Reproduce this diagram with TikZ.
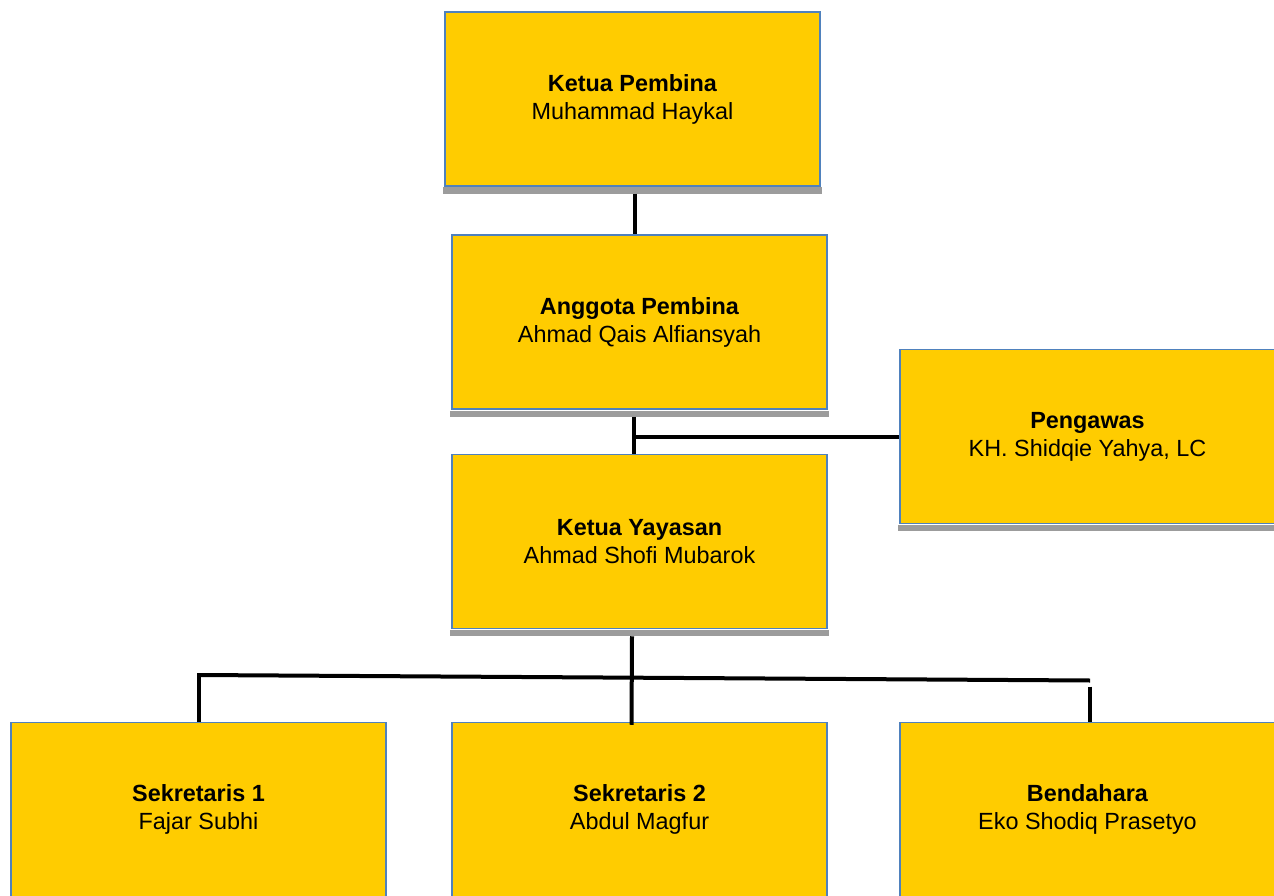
\documentclass[tikz,border=0pt]{standalone}
\usepackage{fontspec}
\setmainfont{Liberation Sans}
\definecolor{boxfill}{HTML}{FFCC00}
\definecolor{boxblue}{HTML}{4F81BD}
\definecolor{shadowgray}{HTML}{9C9C9C}
\newcommand\boxshadow[1]{\fill[shadowgray] ([xshift=-1pt,yshift=-0.75pt]#1.south west) rectangle ([xshift=1pt,yshift=-7pt]#1.south east);}
\begin{document}
\begin{tikzpicture}[x=1pt,y=-1pt,
  orgbox/.style={draw=boxblue, line width=1.5pt, fill=boxfill, minimum width=375pt, minimum height=174pt, inner sep=0pt, align=center, font=\fontsize{23.4}{28}\selectfont},
  conn/.style={line width=4pt, black}]
\useasboundingbox (0,0) rectangle (1274,896);
\clip (0,0) rectangle (1274,896);

\node[orgbox] (k1) at (632.5,99) {\textbf{Ketua Pembina}\\Muhammad Haykal};
\node[orgbox] (k2) at (639.5,322) {\textbf{Anggota Pembina}\\Ahmad Qais Alfiansyah};
\node[orgbox] (pg) at (1087.5,436.5) {\textbf{Pengawas}\\KH. Shidqie Yahya, LC};
\node[orgbox] (ky) at (639.5,541.5) {\textbf{Ketua Yayasan}\\Ahmad Shofi Mubarok};
\node[orgbox] (s1) at (198.5,809.5) {\textbf{Sekretaris 1}\\Fajar Subhi};
\node[orgbox] (s2) at (639.5,809.5) {\textbf{Sekretaris 2}\\Abdul Magfur};
\node[orgbox] (bd) at (1087.5,809.5) {\textbf{Bendahara}\\Eko Shodiq Prasetyo};

\boxshadow{k1}
\boxshadow{k2}
\boxshadow{pg}
\boxshadow{ky}

% Ketua Pembina -> Anggota Pembina
\draw[conn] ([xshift=2.5pt,yshift=-7pt]k1.south) -- ([xshift=2.5pt]k1.south |- k2.north);
% Anggota Pembina -> Ketua Yayasan, branch to Pengawas
\draw[conn] ([xshift=-5.5pt,yshift=-7pt]k2.south) -- ([xshift=-5.5pt]k2.south |- ky.north);
\coordinate (j1) at ([xshift=-7.5pt]k2.south |- pg.west);
\draw[conn] (j1) -- (pg.west);
% Ketua Yayasan -> bottom row
\coordinate (bl) at (198.5,675);
\coordinate (br) at (1090,680.5);
\draw[conn] (bl) -- (br);
\draw[conn] ([xshift=-7.5pt,yshift=-7pt]ky.south) -- ([xshift=-8pt,yshift=-3pt]s2.north);
\draw[conn] ([yshift=2pt]bl) -- (s1.north);
\draw[conn] ([yshift=-6pt]br) -- ([xshift=2.5pt]bd.north);
\end{tikzpicture}
\end{document}
